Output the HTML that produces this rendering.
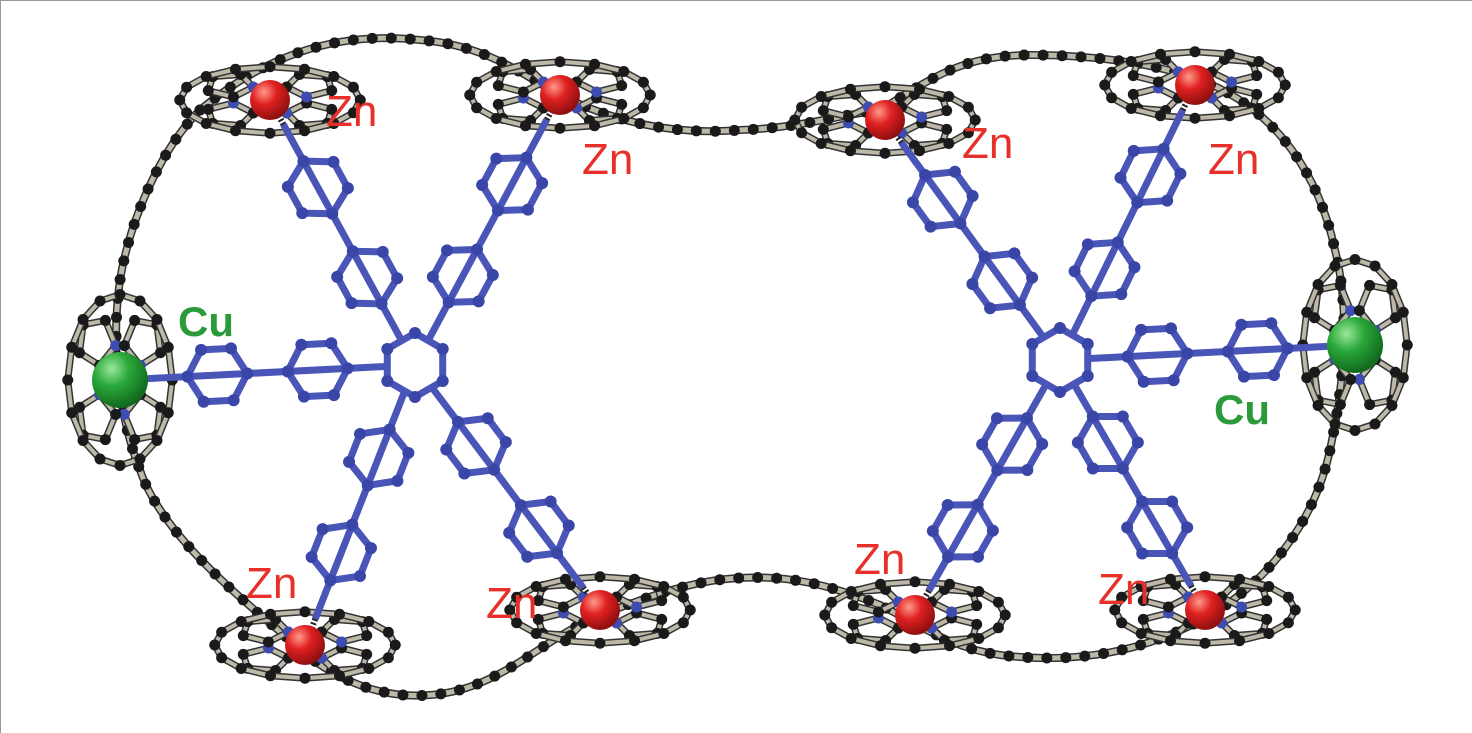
<!DOCTYPE html>
<html><head><meta charset="utf-8"><style>
html,body{margin:0;padding:0;background:#fff;}
svg{display:block;}
.zn{font-family:"Liberation Sans",sans-serif;font-size:44px;fill:#e8302a;}
.cu{font-family:"Liberation Sans",sans-serif;font-size:42px;font-weight:bold;fill:#2a9a3a;}
</style></head><body>
<svg id="s" width="1472" height="733" viewBox="0 0 1472 733">
<defs>
<radialGradient id="gr" cx="35%" cy="30%" r="70%"><stop offset="0" stop-color="#ff9a8a"/><stop offset="0.45" stop-color="#e02020"/><stop offset="1" stop-color="#901010"/></radialGradient>
<radialGradient id="gg" cx="35%" cy="30%" r="70%"><stop offset="0" stop-color="#9be89b"/><stop offset="0.45" stop-color="#2aa83a"/><stop offset="1" stop-color="#126a1e"/></radialGradient>
</defs>
<rect x="0.5" y="0.5" width="1480" height="740" fill="none" stroke="#999"/>
<g id="chain"></g>
<g id="porph"></g>
<g id="blue"></g>
<g id="metals"></g>
<g>
<text class="zn" x="326" y="126">Zn</text>
<text class="zn" x="582" y="174">Zn</text>
<text class="zn" x="962" y="158">Zn</text>
<text class="zn" x="1208" y="174">Zn</text>
<text class="zn" x="246" y="598">Zn</text>
<text class="zn" x="486" y="618">Zn</text>
<text class="zn" x="854" y="574">Zn</text>
<text class="zn" x="1098" y="604">Zn</text>
<text class="cu" x="178" y="336">Cu</text>
<text class="cu" x="1214" y="424">Cu</text>
</g>
</svg>
<script>
const NS="http://www.w3.org/2000/svg";
function el(tag,attrs,parent){const e=document.createElementNS(NS,tag);for(const k in attrs)e.setAttribute(k,attrs[k]);parent.appendChild(e);return e;}
const chain=document.getElementById('chain'),porph=document.getElementById('porph'),blue=document.getElementById('blue'),metals=document.getElementById('metals');
const d="M200,110 C260,60 330,30 420,40 C490,45 530,80 560,95 C620,125 680,135 740,130 C800,128 840,115 880,110 C930,80 960,55 1030,55 C1100,55 1160,65 1200,80 C1280,110 1320,180 1335,250 C1350,310 1345,380 1330,450 C1315,520 1270,580 1210,615 C1150,650 1080,665 1000,655 C950,648 920,625 880,605 C830,585 790,575 740,578 C690,580 640,600 600,615 C540,640 500,690 430,695 C370,700 320,670 290,640 C230,590 160,530 140,470 C120,420 110,350 120,280 C130,220 160,150 200,110 Z";
const p=el('path',{d:d,fill:'none',stroke:'#333',"stroke-width":8},chain);

const p2=el('path',{d:d,fill:'none',stroke:'#bdb8a8',"stroke-width":5},chain);

const L=p.getTotalLength();
for(let s=0;s<L;s+=19){const pt=p.getPointAtLength(s);const c=el('circle',{cx:pt.x,cy:pt.y,r:5.5,fill:'#1a1a1a'},chain);}
const porphs=[[270,100,0.35],[560,95,0.35],[885,120,0.35],[1195,85,0.35],[120,380,1],[1355,345,1],[305,645,0.35],[600,610,0.35],[915,615,0.35],[1205,610,0.45]];
porphs.forEach(([cx,cy,sq])=>{
  const g=el('g',{},porph);
  const rx=sq<1?95:55,ry=sq<1?35:90;
  for(let k=0;k<4;k++){
    const a=k*Math.PI/2+Math.PI/4;const px=cx+Math.cos(a)*rx*0.6,py=cy+Math.sin(a)*ry*0.6;
    let pts=[];for(let j=0;j<5;j++){const b=j*2*Math.PI/5+a;pts.push([px+Math.cos(b)*24*(sq<1?1:0.8),py+Math.sin(b)*24*(sq<1?0.5:1)]);}
    const ps=pts.map(q=>q.join(',')).join(' ');
    el('polygon',{points:ps,fill:'none',stroke:'#333',"stroke-width":7},g);
    el('polygon',{points:ps,fill:'none',stroke:'#bdb8a8',"stroke-width":4},g);
    pts.forEach((q,j)=>el('circle',{cx:q[0],cy:q[1],r:5.5,fill:j==2?'#3c4cb0':'#1a1a1a'},g));
  }
  const pts2=[];for(let j=0;j<16;j++){const a=j*Math.PI/8;pts2.push([cx+Math.cos(a)*rx*0.95,cy+Math.sin(a)*ry*0.95]);}
  const ps2=pts2.map(q=>q.join(',')).join(' ');
  el('polygon',{points:ps2,fill:'none',stroke:'#333',"stroke-width":7},g);
  el('polygon',{points:ps2,fill:'none',stroke:'#bdb8a8',"stroke-width":4},g);
  pts2.forEach(q=>el('circle',{cx:q[0],cy:q[1],r:5.5,fill:'#1a1a1a'},g));
});
function ring(g,cx,cy,r,rot){let pts=[];for(let j=0;j<6;j++){const a=rot+j*Math.PI/3;pts.push([cx+Math.cos(a)*r,cy+Math.sin(a)*r]);}
  el('polygon',{points:pts.map(q=>q.join(',')).join(' '),fill:'none',stroke:'#4a55b8',"stroke-width":7},g);
  pts.forEach(q=>el('circle',{cx:q[0],cy:q[1],r:6,fill:'#3a45a8'},g));}
function mol(cx,cy,targets){
  const g=el('g',{},blue);
  targets.forEach(([tx,ty])=>{
    const dx=tx-cx,dy=ty-cy,len=Math.hypot(dx,dy),ux=dx/len,uy=dy/len;
    el('line',{x1:cx+ux*30,y1:cy+uy*30,x2:tx-ux*28,y2:ty-uy*28,stroke:'#4a55b8',"stroke-width":7},g);
    const ang=Math.atan2(dy,dx);
    [0.33,0.67].forEach(f=>ring(g,cx+dx*f,cy+dy*f,30,ang));
    el('line',{x1:tx-ux*28,y1:ty-uy*28,x2:tx-ux*10,y2:ty-uy*10,stroke:'#222',"stroke-width":6,"stroke-dasharray":"2,2"},g);
  });
  ring(g,cx,cy,32,Math.PI/6);
}
mol(415,365,[[270,100],[560,95],[120,380],[305,645],[600,610]]);
mol(1060,360,[[885,120],[1195,85],[1355,345],[915,615],[1205,610]]);
[[270,100],[560,95],[885,120],[1195,85],[305,645],[600,610],[915,615],[1205,610]].forEach(([x,y])=>{const c=el('circle',{cx:x,cy:y,r:20,fill:'url(#gr)'},metals);});
[[120,380],[1355,345]].forEach(([x,y])=>{const c=el('circle',{cx:x,cy:y,r:28,fill:'url(#gg)'},metals);});
</script>
</body></html>
